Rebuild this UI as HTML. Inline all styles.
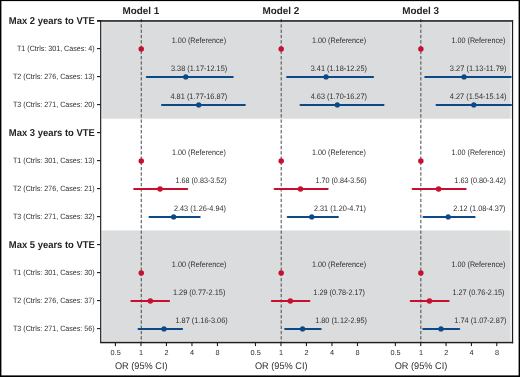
<!DOCTYPE html><html><head><meta charset="utf-8"><style>html,body{margin:0;padding:0;background:#fff;width:520px;height:377px;overflow:hidden}svg{display:block;will-change:transform}text{font-family:"Liberation Sans", sans-serif;text-rendering:geometricPrecision}</style></head><body>
<svg width="520" height="377" viewBox="0 0 520 377">
<rect x="0" y="0" width="520" height="377" fill="#fff"/>
<rect x="101" y="21.5" width="411.20000000000005" height="97.1" fill="#ebebec"/>
<rect x="101" y="230.6" width="411.20000000000005" height="111.4" fill="#ebebec"/>
<rect x="102.4" y="22.4" width="407.5" height="96.19999999999999" fill="#dbdcdd"/>
<rect x="102.4" y="230.6" width="407.5" height="110.4" fill="#dbdcdd"/>
<defs><clipPath id="c"><rect x="101" y="21" width="410.8" height="321"/></clipPath></defs>
<line x1="141.25" y1="19.0" x2="141.25" y2="342" stroke="#4a4a4a" stroke-width="1.0" stroke-dasharray="3.4 1.886"/>
<line x1="281.20" y1="19.0" x2="281.20" y2="342" stroke="#4a4a4a" stroke-width="1.0" stroke-dasharray="3.4 1.886"/>
<line x1="420.85" y1="19.0" x2="420.85" y2="342" stroke="#4a4a4a" stroke-width="1.0" stroke-dasharray="3.4 1.886"/>
<g clip-path="url(#c)">
<circle cx="141.25" cy="48.90" r="2.75" fill="#c8102e"/>
<line x1="146.73" y1="76.90" x2="232.82" y2="76.90" stroke="#0c4a86" stroke-width="2" stroke-linecap="round"/>
<circle cx="185.75" cy="76.90" r="2.6" fill="#0c4a86"/>
<line x1="161.96" y1="104.90" x2="244.90" y2="104.90" stroke="#0c4a86" stroke-width="2" stroke-linecap="round"/>
<circle cx="198.73" cy="104.90" r="2.6" fill="#0c4a86"/>
<circle cx="141.25" cy="160.90" r="2.75" fill="#c8102e"/>
<line x1="134.10" y1="188.90" x2="187.25" y2="188.90" stroke="#c8102e" stroke-width="2" stroke-linecap="round"/>
<circle cx="160.04" cy="188.90" r="2.75" fill="#c8102e"/>
<line x1="149.45" y1="216.90" x2="199.72" y2="216.90" stroke="#0c4a86" stroke-width="2" stroke-linecap="round"/>
<circle cx="173.61" cy="216.90" r="2.6" fill="#0c4a86"/>
<circle cx="141.25" cy="272.90" r="2.75" fill="#c8102e"/>
<line x1="131.33" y1="300.90" x2="169.11" y2="300.90" stroke="#c8102e" stroke-width="2" stroke-linecap="round"/>
<circle cx="150.32" cy="300.90" r="2.75" fill="#c8102e"/>
<line x1="138.50" y1="328.90" x2="182.10" y2="328.90" stroke="#0c4a86" stroke-width="2" stroke-linecap="round"/>
<circle cx="163.98" cy="328.90" r="2.6" fill="#0c4a86"/>
<circle cx="281.20" cy="48.90" r="2.75" fill="#c8102e"/>
<line x1="287.04" y1="76.90" x2="373.13" y2="76.90" stroke="#0c4a86" stroke-width="2" stroke-linecap="round"/>
<circle cx="326.08" cy="76.90" r="2.6" fill="#0c4a86"/>
<line x1="300.47" y1="104.90" x2="383.57" y2="104.90" stroke="#0c4a86" stroke-width="2" stroke-linecap="round"/>
<circle cx="337.33" cy="104.90" r="2.6" fill="#0c4a86"/>
<circle cx="281.20" cy="160.90" r="2.75" fill="#c8102e"/>
<line x1="274.54" y1="188.90" x2="327.66" y2="188.90" stroke="#c8102e" stroke-width="2" stroke-linecap="round"/>
<circle cx="300.47" cy="188.90" r="2.75" fill="#c8102e"/>
<line x1="287.66" y1="216.90" x2="337.96" y2="216.90" stroke="#0c4a86" stroke-width="2" stroke-linecap="round"/>
<circle cx="311.75" cy="216.90" r="2.6" fill="#0c4a86"/>
<circle cx="281.20" cy="272.90" r="2.75" fill="#c8102e"/>
<line x1="271.81" y1="300.90" x2="309.45" y2="300.90" stroke="#c8102e" stroke-width="2" stroke-linecap="round"/>
<circle cx="290.32" cy="300.90" r="2.75" fill="#c8102e"/>
<line x1="285.12" y1="328.90" x2="320.75" y2="328.90" stroke="#0c4a86" stroke-width="2" stroke-linecap="round"/>
<circle cx="302.57" cy="328.90" r="2.6" fill="#0c4a86"/>
<circle cx="420.85" cy="48.90" r="2.75" fill="#c8102e"/>
<line x1="425.19" y1="76.90" x2="510.95" y2="76.90" stroke="#0c4a86" stroke-width="2" stroke-linecap="round"/>
<circle cx="464.05" cy="76.90" r="2.6" fill="#0c4a86"/>
<line x1="436.51" y1="104.90" x2="520.10" y2="104.90" stroke="#0c4a86" stroke-width="2" stroke-linecap="round"/>
<circle cx="473.81" cy="104.90" r="2.6" fill="#0c4a86"/>
<circle cx="420.85" cy="160.90" r="2.75" fill="#c8102e"/>
<line x1="412.56" y1="188.90" x2="465.69" y2="188.90" stroke="#c8102e" stroke-width="2" stroke-linecap="round"/>
<circle cx="438.59" cy="188.90" r="2.75" fill="#c8102e"/>
<line x1="423.53" y1="216.90" x2="474.66" y2="216.90" stroke="#0c4a86" stroke-width="2" stroke-linecap="round"/>
<circle cx="448.20" cy="216.90" r="2.6" fill="#0c4a86"/>
<circle cx="420.85" cy="272.90" r="2.75" fill="#c8102e"/>
<line x1="410.68" y1="300.90" x2="448.71" y2="300.90" stroke="#c8102e" stroke-width="2" stroke-linecap="round"/>
<circle cx="429.46" cy="300.90" r="2.75" fill="#c8102e"/>
<line x1="423.19" y1="328.90" x2="459.28" y2="328.90" stroke="#0c4a86" stroke-width="2" stroke-linecap="round"/>
<circle cx="440.98" cy="328.90" r="2.6" fill="#0c4a86"/>
</g>
<text x="171.85" y="42.80" font-size="7.9" fill="#2e2e2e" textLength="54.20" lengthAdjust="spacingAndGlyphs">1.00 (Reference)</text>
<text x="170.95" y="70.80" font-size="7.9" fill="#2e2e2e" textLength="56.30" lengthAdjust="spacingAndGlyphs">3.38 (1.17-12.15)</text>
<text x="170.45" y="98.80" font-size="7.9" fill="#2e2e2e" textLength="56.80" lengthAdjust="spacingAndGlyphs">4.81 (1.77-16.87)</text>
<text x="172.05" y="154.80" font-size="7.9" fill="#2e2e2e" textLength="53.80" lengthAdjust="spacingAndGlyphs">1.00 (Reference)</text>
<text x="175.45" y="182.80" font-size="7.9" fill="#2e2e2e" textLength="51.30" lengthAdjust="spacingAndGlyphs">1.68 (0.83-3.52)</text>
<text x="173.95" y="210.80" font-size="7.9" fill="#2e2e2e" textLength="52.10" lengthAdjust="spacingAndGlyphs">2.43 (1.26-4.94)</text>
<text x="171.85" y="266.80" font-size="7.9" fill="#2e2e2e" textLength="54.60" lengthAdjust="spacingAndGlyphs">1.00 (Reference)</text>
<text x="172.95" y="294.80" font-size="7.9" fill="#2e2e2e" textLength="52.40" lengthAdjust="spacingAndGlyphs">1.29 (0.77-2.15)</text>
<text x="175.45" y="322.80" font-size="7.9" fill="#2e2e2e" textLength="52.30" lengthAdjust="spacingAndGlyphs">1.87 (1.16-3.06)</text>
<text x="312.05" y="42.80" font-size="7.9" fill="#2e2e2e" textLength="54.00" lengthAdjust="spacingAndGlyphs">1.00 (Reference)</text>
<text x="310.75" y="70.80" font-size="7.9" fill="#2e2e2e" textLength="56.20" lengthAdjust="spacingAndGlyphs">3.41 (1.18-12.25)</text>
<text x="310.75" y="98.80" font-size="7.9" fill="#2e2e2e" textLength="56.20" lengthAdjust="spacingAndGlyphs">4.63 (1.70-16.27)</text>
<text x="312.05" y="154.80" font-size="7.9" fill="#2e2e2e" textLength="53.80" lengthAdjust="spacingAndGlyphs">1.00 (Reference)</text>
<text x="315.45" y="182.80" font-size="7.9" fill="#2e2e2e" textLength="51.30" lengthAdjust="spacingAndGlyphs">1.70 (0.84-3.56)</text>
<text x="313.95" y="210.80" font-size="7.9" fill="#2e2e2e" textLength="52.10" lengthAdjust="spacingAndGlyphs">2.31 (1.20-4.71)</text>
<text x="312.05" y="266.80" font-size="7.9" fill="#2e2e2e" textLength="54.00" lengthAdjust="spacingAndGlyphs">1.00 (Reference)</text>
<text x="313.35" y="294.80" font-size="7.9" fill="#2e2e2e" textLength="51.60" lengthAdjust="spacingAndGlyphs">1.29 (0.78-2.17)</text>
<text x="315.25" y="322.80" font-size="7.9" fill="#2e2e2e" textLength="51.70" lengthAdjust="spacingAndGlyphs">1.80 (1.12-2.95)</text>
<text x="451.55" y="42.80" font-size="7.9" fill="#2e2e2e" textLength="53.90" lengthAdjust="spacingAndGlyphs">1.00 (Reference)</text>
<text x="449.85" y="70.80" font-size="7.9" fill="#2e2e2e" textLength="56.60" lengthAdjust="spacingAndGlyphs">3.27 (1.13-11.79)</text>
<text x="449.85" y="98.80" font-size="7.9" fill="#2e2e2e" textLength="56.60" lengthAdjust="spacingAndGlyphs">4.27 (1.54-15.14)</text>
<text x="451.55" y="154.80" font-size="7.9" fill="#2e2e2e" textLength="53.90" lengthAdjust="spacingAndGlyphs">1.00 (Reference)</text>
<text x="454.35" y="182.80" font-size="7.9" fill="#2e2e2e" textLength="51.70" lengthAdjust="spacingAndGlyphs">1.63 (0.80-3.42)</text>
<text x="453.35" y="210.80" font-size="7.9" fill="#2e2e2e" textLength="52.10" lengthAdjust="spacingAndGlyphs">2.12 (1.08-4.37)</text>
<text x="451.55" y="266.80" font-size="7.9" fill="#2e2e2e" textLength="53.90" lengthAdjust="spacingAndGlyphs">1.00 (Reference)</text>
<text x="452.45" y="294.80" font-size="7.9" fill="#2e2e2e" textLength="52.10" lengthAdjust="spacingAndGlyphs">1.27 (0.76-2.15)</text>
<text x="454.35" y="322.80" font-size="7.9" fill="#2e2e2e" textLength="52.10" lengthAdjust="spacingAndGlyphs">1.74 (1.07-2.87)</text>
<rect x="100.1" y="20.3" width="1.15" height="322.7" fill="#1e1e1e"/>
<rect x="97" y="20.15" width="416.1" height="1.6" fill="#1e1e1e"/>
<rect x="512.0" y="20.3" width="1.15" height="323.0" fill="#1e1e1e"/>
<rect x="100.1" y="341.8" width="413.04999999999995" height="1.5" fill="#1e1e1e"/>
<rect x="97" y="20.05" width="3.5" height="1.1" fill="#1e1e1e"/>
<text transform="translate(94.8 24.35) scale(0.943 1)" font-size="10" font-weight="bold" fill="#242424" text-anchor="end">Max 2 years to VTE</text>
<rect x="97" y="48.05" width="3.5" height="1.1" fill="#1e1e1e"/>
<text transform="translate(94.6 51.20) scale(0.927 1)" font-size="7.7" fill="#2e2e2e" text-anchor="end">T1 (Ctrls: 301, Cases: 4)</text>
<rect x="97" y="76.05" width="3.5" height="1.1" fill="#1e1e1e"/>
<text transform="translate(94.6 79.20) scale(0.927 1)" font-size="7.7" fill="#2e2e2e" text-anchor="end">T2 (Ctrls: 276, Cases: 13)</text>
<rect x="97" y="104.05" width="3.5" height="1.1" fill="#1e1e1e"/>
<text transform="translate(94.6 107.20) scale(0.927 1)" font-size="7.7" fill="#2e2e2e" text-anchor="end">T3 (Ctrls: 271, Cases: 20)</text>
<rect x="97" y="132.05" width="3.5" height="1.1" fill="#1e1e1e"/>
<text transform="translate(94.8 136.35) scale(0.943 1)" font-size="10" font-weight="bold" fill="#242424" text-anchor="end">Max 3 years to VTE</text>
<rect x="97" y="160.05" width="3.5" height="1.1" fill="#1e1e1e"/>
<text transform="translate(94.6 163.20) scale(0.927 1)" font-size="7.7" fill="#2e2e2e" text-anchor="end">T1 (Ctrls: 301, Cases: 13)</text>
<rect x="97" y="188.05" width="3.5" height="1.1" fill="#1e1e1e"/>
<text transform="translate(94.6 191.20) scale(0.927 1)" font-size="7.7" fill="#2e2e2e" text-anchor="end">T2 (Ctrls: 276, Cases: 21)</text>
<rect x="97" y="216.05" width="3.5" height="1.1" fill="#1e1e1e"/>
<text transform="translate(94.6 219.20) scale(0.927 1)" font-size="7.7" fill="#2e2e2e" text-anchor="end">T3 (Ctrls: 271, Cases: 32)</text>
<rect x="97" y="244.05" width="3.5" height="1.1" fill="#1e1e1e"/>
<text transform="translate(94.8 248.35) scale(0.943 1)" font-size="10" font-weight="bold" fill="#242424" text-anchor="end">Max 5 years to VTE</text>
<rect x="97" y="272.05" width="3.5" height="1.1" fill="#1e1e1e"/>
<text transform="translate(94.6 275.20) scale(0.927 1)" font-size="7.7" fill="#2e2e2e" text-anchor="end">T1 (Ctrls: 301, Cases: 30)</text>
<rect x="97" y="300.05" width="3.5" height="1.1" fill="#1e1e1e"/>
<text transform="translate(94.6 303.20) scale(0.927 1)" font-size="7.7" fill="#2e2e2e" text-anchor="end">T2 (Ctrls: 276, Cases: 37)</text>
<rect x="97" y="328.05" width="3.5" height="1.1" fill="#1e1e1e"/>
<text transform="translate(94.6 331.20) scale(0.927 1)" font-size="7.7" fill="#2e2e2e" text-anchor="end">T3 (Ctrls: 271, Cases: 56)</text>
<rect x="114.90" y="342.8" width="1.1" height="3.3" fill="#1e1e1e"/>
<text x="115.65" y="354.8" font-size="7.3" fill="#2e2e2e" text-anchor="middle">0.5</text>
<rect x="140.40" y="342.8" width="1.1" height="3.3" fill="#1e1e1e"/>
<text x="141.15" y="354.8" font-size="7.3" fill="#2e2e2e" text-anchor="middle">1</text>
<rect x="165.90" y="342.8" width="1.1" height="3.3" fill="#1e1e1e"/>
<text x="166.65" y="354.8" font-size="7.3" fill="#2e2e2e" text-anchor="middle">2</text>
<rect x="191.40" y="342.8" width="1.1" height="3.3" fill="#1e1e1e"/>
<text x="192.15" y="354.8" font-size="7.3" fill="#2e2e2e" text-anchor="middle">4</text>
<rect x="216.90" y="342.8" width="1.1" height="3.3" fill="#1e1e1e"/>
<text x="217.65" y="354.8" font-size="7.3" fill="#2e2e2e" text-anchor="middle">8</text>
<text transform="translate(141.25 368.7) scale(0.96 1)" font-size="9.6" fill="#2e2e2e" text-anchor="middle">OR (95% CI)</text>
<text transform="translate(140.85 14.45) scale(0.99 1)" font-size="10" font-weight="bold" fill="#242424" text-anchor="middle">Model 1</text>
<rect x="254.90" y="342.8" width="1.1" height="3.3" fill="#1e1e1e"/>
<text x="255.65" y="354.8" font-size="7.3" fill="#2e2e2e" text-anchor="middle">0.5</text>
<rect x="280.40" y="342.8" width="1.1" height="3.3" fill="#1e1e1e"/>
<text x="281.15" y="354.8" font-size="7.3" fill="#2e2e2e" text-anchor="middle">1</text>
<rect x="305.90" y="342.8" width="1.1" height="3.3" fill="#1e1e1e"/>
<text x="306.65" y="354.8" font-size="7.3" fill="#2e2e2e" text-anchor="middle">2</text>
<rect x="331.40" y="342.8" width="1.1" height="3.3" fill="#1e1e1e"/>
<text x="332.15" y="354.8" font-size="7.3" fill="#2e2e2e" text-anchor="middle">4</text>
<rect x="356.90" y="342.8" width="1.1" height="3.3" fill="#1e1e1e"/>
<text x="357.65" y="354.8" font-size="7.3" fill="#2e2e2e" text-anchor="middle">8</text>
<text transform="translate(281.25 368.7) scale(0.96 1)" font-size="9.6" fill="#2e2e2e" text-anchor="middle">OR (95% CI)</text>
<text transform="translate(280.85 14.45) scale(0.99 1)" font-size="10" font-weight="bold" fill="#242424" text-anchor="middle">Model 2</text>
<rect x="394.82" y="342.8" width="1.1" height="3.3" fill="#1e1e1e"/>
<text x="395.57" y="354.8" font-size="7.3" fill="#2e2e2e" text-anchor="middle">0.5</text>
<rect x="420.17" y="342.8" width="1.1" height="3.3" fill="#1e1e1e"/>
<text x="420.92" y="354.8" font-size="7.3" fill="#2e2e2e" text-anchor="middle">1</text>
<rect x="445.52" y="342.8" width="1.1" height="3.3" fill="#1e1e1e"/>
<text x="446.27" y="354.8" font-size="7.3" fill="#2e2e2e" text-anchor="middle">2</text>
<rect x="470.87" y="342.8" width="1.1" height="3.3" fill="#1e1e1e"/>
<text x="471.62" y="354.8" font-size="7.3" fill="#2e2e2e" text-anchor="middle">4</text>
<rect x="496.22" y="342.8" width="1.1" height="3.3" fill="#1e1e1e"/>
<text x="496.97" y="354.8" font-size="7.3" fill="#2e2e2e" text-anchor="middle">8</text>
<text transform="translate(421.02 368.7) scale(0.96 1)" font-size="9.6" fill="#2e2e2e" text-anchor="middle">OR (95% CI)</text>
<text transform="translate(420.62 14.45) scale(0.99 1)" font-size="10" font-weight="bold" fill="#242424" text-anchor="middle">Model 3</text>
<rect x="0" y="0" width="520" height="1.1" fill="#000"/>
<rect x="0" y="0" width="1.4" height="377" fill="#000"/>
<rect x="518.6" y="0" width="1.4" height="377" fill="#000"/>
<rect x="0" y="375.4" width="520" height="1.6" fill="#000"/>
</svg></body></html>
